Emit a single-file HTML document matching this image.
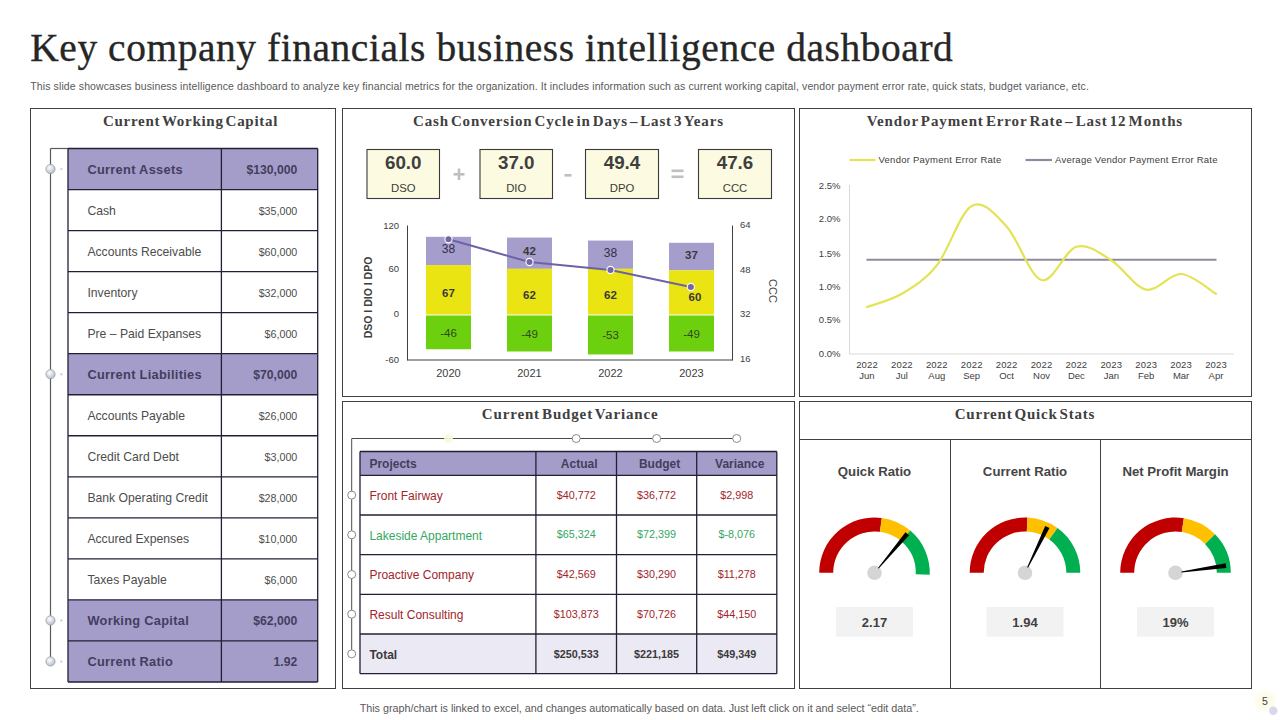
<!DOCTYPE html>
<html><head><meta charset="utf-8"><style>
html,body{margin:0;padding:0;background:#fff;width:1280px;height:720px;overflow:hidden}
svg{display:block;position:absolute;left:0;top:0}
</style></head><body>
<svg width="1280" height="720" viewBox="0 0 1280 720">
<defs><radialGradient id="glow"><stop offset="0" stop-color="#FDFBE6"/><stop offset="0.6" stop-color="#FDFCEC"/><stop offset="1" stop-color="#FFFFFF"/></radialGradient><radialGradient id="nodeg" cx="40%" cy="35%" r="65%"><stop offset="0" stop-color="#FFFFFF"/><stop offset="1" stop-color="#B7BCCB"/></radialGradient></defs>
<text x="30.3" y="60.8" font-family='"Liberation Serif", serif' font-size="39.4" fill="#262626" font-weight="normal" text-anchor="start" letter-spacing="0" textLength="922.5" lengthAdjust="spacing" stroke="#262626" stroke-width="0.35">Key company financials business intelligence dashboard</text>
<text x="30.3" y="89.7" font-family='"Liberation Sans", sans-serif' font-size="10.5" fill="#595959" font-weight="normal" text-anchor="start" letter-spacing="0" textLength="1058.5" lengthAdjust="spacing" >This slide showcases business intelligence dashboard to analyze key financial metrics for the organization. It includes information such as current working capital, vendor payment error rate, quick stats, budget variance, etc.</text>
<rect x="30.5" y="108.5" width="305" height="580" fill="none" stroke="#404040" stroke-width="1" />
<rect x="342.5" y="108.5" width="452" height="288" fill="none" stroke="#404040" stroke-width="1" />
<rect x="799.5" y="108.5" width="452" height="288" fill="none" stroke="#404040" stroke-width="1" />
<rect x="342.5" y="401.5" width="452" height="287" fill="none" stroke="#404040" stroke-width="1" />
<rect x="799.5" y="401.5" width="452" height="287" fill="none" stroke="#404040" stroke-width="1" />
<text x="102.9" y="125.8" font-family='"Liberation Serif", serif' font-size="15" fill="#404040" font-weight="bold" text-anchor="start" letter-spacing="0" textLength="174.49999999999997" lengthAdjust="spacing" word-spacing="-2.5" >Current Working Capital</text>
<text x="413" y="125.8" font-family='"Liberation Serif", serif' font-size="15" fill="#404040" font-weight="bold" text-anchor="start" letter-spacing="0" textLength="310" lengthAdjust="spacing" word-spacing="-2.5" >Cash Conversion Cycle in Days – Last 3 Years</text>
<text x="866.7" y="126" font-family='"Liberation Serif", serif' font-size="15" fill="#404040" font-weight="bold" text-anchor="start" letter-spacing="0" textLength="315.5" lengthAdjust="spacing" word-spacing="-2.5" >Vendor Payment Error Rate –  Last 12 Months</text>
<text x="481.8" y="418.9" font-family='"Liberation Serif", serif' font-size="15" fill="#404040" font-weight="bold" text-anchor="start" letter-spacing="0" textLength="175.90000000000003" lengthAdjust="spacing" word-spacing="-2.5" >Current Budget Variance</text>
<text x="954.7" y="419" font-family='"Liberation Serif", serif' font-size="15" fill="#404040" font-weight="bold" text-anchor="start" letter-spacing="0" textLength="139.70000000000005" lengthAdjust="spacing" word-spacing="-2.5" >Current Quick Stats</text>
<line x1="50.5" y1="148.5" x2="50.5" y2="661.4807692307693" stroke="#595959" stroke-width="1.2" />
<line x1="50.5" y1="148.5" x2="68" y2="148.5" stroke="#595959" stroke-width="1.2" />
<rect x="68" y="148.5" width="249.7" height="41.03846153846154" fill="#A59DC9" stroke="none" stroke-width="1" />
<rect x="68" y="353.69230769230774" width="249.7" height="41.03846153846154" fill="#A59DC9" stroke="none" stroke-width="1" />
<rect x="68" y="599.9230769230769" width="249.7" height="41.03846153846154" fill="#A59DC9" stroke="none" stroke-width="1" />
<rect x="68" y="640.9615384615385" width="249.7" height="41.03846153846154" fill="#A59DC9" stroke="none" stroke-width="1" />
<line x1="68" y1="148.5" x2="317.7" y2="148.5" stroke="#221F36" stroke-width="1.3" />
<line x1="68" y1="189.53846153846155" x2="317.7" y2="189.53846153846155" stroke="#221F36" stroke-width="1.3" />
<line x1="68" y1="230.5769230769231" x2="317.7" y2="230.5769230769231" stroke="#221F36" stroke-width="1.3" />
<line x1="68" y1="271.61538461538464" x2="317.7" y2="271.61538461538464" stroke="#221F36" stroke-width="1.3" />
<line x1="68" y1="312.6538461538462" x2="317.7" y2="312.6538461538462" stroke="#221F36" stroke-width="1.3" />
<line x1="68" y1="353.69230769230774" x2="317.7" y2="353.69230769230774" stroke="#221F36" stroke-width="1.3" />
<line x1="68" y1="394.7307692307692" x2="317.7" y2="394.7307692307692" stroke="#221F36" stroke-width="1.3" />
<line x1="68" y1="435.7692307692308" x2="317.7" y2="435.7692307692308" stroke="#221F36" stroke-width="1.3" />
<line x1="68" y1="476.8076923076923" x2="317.7" y2="476.8076923076923" stroke="#221F36" stroke-width="1.3" />
<line x1="68" y1="517.8461538461538" x2="317.7" y2="517.8461538461538" stroke="#221F36" stroke-width="1.3" />
<line x1="68" y1="558.8846153846155" x2="317.7" y2="558.8846153846155" stroke="#221F36" stroke-width="1.3" />
<line x1="68" y1="599.9230769230769" x2="317.7" y2="599.9230769230769" stroke="#221F36" stroke-width="1.3" />
<line x1="68" y1="640.9615384615385" x2="317.7" y2="640.9615384615385" stroke="#221F36" stroke-width="1.3" />
<line x1="68" y1="682.0" x2="317.7" y2="682.0" stroke="#221F36" stroke-width="1.3" />
<line x1="68" y1="148.5" x2="68" y2="682.0" stroke="#221F36" stroke-width="1.3" />
<line x1="317.7" y1="148.5" x2="317.7" y2="682.0" stroke="#221F36" stroke-width="1.3" />
<line x1="221.4" y1="148.5" x2="221.4" y2="682.0" stroke="#221F36" stroke-width="1.3" />
<text x="87.4" y="173.9" font-family='"Liberation Sans", sans-serif' font-size="12.8" fill="#423E5E" font-weight="bold" text-anchor="start" letter-spacing="0.3" >Current Assets</text>
<text x="297.3" y="173.7" font-family='"Liberation Sans", sans-serif' font-size="12.2" fill="#423E5E" font-weight="bold" text-anchor="end" letter-spacing="0" >$130,000</text>
<text x="87.4" y="215.13846153846154" font-family='"Liberation Sans", sans-serif' font-size="12.2" fill="#4D4D4D" font-weight="normal" text-anchor="start" letter-spacing="0" >Cash</text>
<text x="297.3" y="215.03846153846155" font-family='"Liberation Sans", sans-serif' font-size="10.7" fill="#4D4D4D" font-weight="normal" text-anchor="end" letter-spacing="0" >$35,000</text>
<text x="87.4" y="256.1769230769231" font-family='"Liberation Sans", sans-serif' font-size="12.2" fill="#4D4D4D" font-weight="normal" text-anchor="start" letter-spacing="0" >Accounts Receivable</text>
<text x="297.3" y="256.0769230769231" font-family='"Liberation Sans", sans-serif' font-size="10.7" fill="#4D4D4D" font-weight="normal" text-anchor="end" letter-spacing="0" >$60,000</text>
<text x="87.4" y="297.21538461538466" font-family='"Liberation Sans", sans-serif' font-size="12.2" fill="#4D4D4D" font-weight="normal" text-anchor="start" letter-spacing="0" >Inventory</text>
<text x="297.3" y="297.11538461538464" font-family='"Liberation Sans", sans-serif' font-size="10.7" fill="#4D4D4D" font-weight="normal" text-anchor="end" letter-spacing="0" >$32,000</text>
<text x="87.4" y="338.2538461538462" font-family='"Liberation Sans", sans-serif' font-size="12.2" fill="#4D4D4D" font-weight="normal" text-anchor="start" letter-spacing="0" >Pre – Paid Expanses</text>
<text x="297.3" y="338.1538461538462" font-family='"Liberation Sans", sans-serif' font-size="10.7" fill="#4D4D4D" font-weight="normal" text-anchor="end" letter-spacing="0" >$6,000</text>
<text x="87.4" y="379.0923076923077" font-family='"Liberation Sans", sans-serif' font-size="12.8" fill="#423E5E" font-weight="bold" text-anchor="start" letter-spacing="0.3" >Current Liabilities</text>
<text x="297.3" y="378.8923076923077" font-family='"Liberation Sans", sans-serif' font-size="12.2" fill="#423E5E" font-weight="bold" text-anchor="end" letter-spacing="0" >$70,000</text>
<text x="87.4" y="420.33076923076925" font-family='"Liberation Sans", sans-serif' font-size="12.2" fill="#4D4D4D" font-weight="normal" text-anchor="start" letter-spacing="0" >Accounts Payable</text>
<text x="297.3" y="420.2307692307692" font-family='"Liberation Sans", sans-serif' font-size="10.7" fill="#4D4D4D" font-weight="normal" text-anchor="end" letter-spacing="0" >$26,000</text>
<text x="87.4" y="461.3692307692308" font-family='"Liberation Sans", sans-serif' font-size="12.2" fill="#4D4D4D" font-weight="normal" text-anchor="start" letter-spacing="0" >Credit Card Debt</text>
<text x="297.3" y="461.2692307692308" font-family='"Liberation Sans", sans-serif' font-size="10.7" fill="#4D4D4D" font-weight="normal" text-anchor="end" letter-spacing="0" >$3,000</text>
<text x="87.4" y="502.40769230769234" font-family='"Liberation Sans", sans-serif' font-size="12.2" fill="#4D4D4D" font-weight="normal" text-anchor="start" letter-spacing="0" >Bank Operating Credit</text>
<text x="297.3" y="502.3076923076923" font-family='"Liberation Sans", sans-serif' font-size="10.7" fill="#4D4D4D" font-weight="normal" text-anchor="end" letter-spacing="0" >$28,000</text>
<text x="87.4" y="543.4461538461538" font-family='"Liberation Sans", sans-serif' font-size="12.2" fill="#4D4D4D" font-weight="normal" text-anchor="start" letter-spacing="0" >Accured Expenses</text>
<text x="297.3" y="543.3461538461538" font-family='"Liberation Sans", sans-serif' font-size="10.7" fill="#4D4D4D" font-weight="normal" text-anchor="end" letter-spacing="0" >$10,000</text>
<text x="87.4" y="584.4846153846155" font-family='"Liberation Sans", sans-serif' font-size="12.2" fill="#4D4D4D" font-weight="normal" text-anchor="start" letter-spacing="0" >Taxes Payable</text>
<text x="297.3" y="584.3846153846155" font-family='"Liberation Sans", sans-serif' font-size="10.7" fill="#4D4D4D" font-weight="normal" text-anchor="end" letter-spacing="0" >$6,000</text>
<text x="87.4" y="625.3230769230769" font-family='"Liberation Sans", sans-serif' font-size="12.8" fill="#423E5E" font-weight="bold" text-anchor="start" letter-spacing="0.3" >Working Capital</text>
<text x="297.3" y="625.123076923077" font-family='"Liberation Sans", sans-serif' font-size="12.2" fill="#423E5E" font-weight="bold" text-anchor="end" letter-spacing="0" >$62,000</text>
<text x="87.4" y="666.3615384615384" font-family='"Liberation Sans", sans-serif' font-size="12.8" fill="#423E5E" font-weight="bold" text-anchor="start" letter-spacing="0.3" >Current Ratio</text>
<text x="297.3" y="666.1615384615385" font-family='"Liberation Sans", sans-serif' font-size="12.2" fill="#423E5E" font-weight="bold" text-anchor="end" letter-spacing="0" >1.92</text>
<circle cx="50.5" cy="169.01923076923077" r="4.6" fill="url(#nodeg)" stroke="#9AA0B0" stroke-width="0.8"/>
<path d="M60.5 167.51923076923077 L63 169.01923076923077 L60.5 170.51923076923077Z" fill="#C8C8D0"/>
<circle cx="50.5" cy="374.2115384615385" r="4.6" fill="url(#nodeg)" stroke="#9AA0B0" stroke-width="0.8"/>
<path d="M60.5 372.7115384615385 L63 374.2115384615385 L60.5 375.7115384615385Z" fill="#C8C8D0"/>
<circle cx="50.5" cy="620.4423076923076" r="4.6" fill="url(#nodeg)" stroke="#9AA0B0" stroke-width="0.8"/>
<path d="M60.5 618.9423076923076 L63 620.4423076923076 L60.5 621.9423076923076Z" fill="#C8C8D0"/>
<circle cx="50.5" cy="661.4807692307692" r="4.6" fill="url(#nodeg)" stroke="#9AA0B0" stroke-width="0.8"/>
<path d="M60.5 659.9807692307692 L63 661.4807692307692 L60.5 662.9807692307692Z" fill="#C8C8D0"/>
<rect x="367" y="149.5" width="72.5" height="49" fill="#FCFAE0" stroke="#3A3A3A" stroke-width="1.1" />
<text x="403.25" y="169" font-family='"Liberation Sans", sans-serif' font-size="18.8" fill="#3F3F3F" font-weight="bold" text-anchor="middle" letter-spacing="0" >60.0</text>
<text x="403.25" y="191.6" font-family='"Liberation Sans", sans-serif' font-size="11.3" fill="#3A3A3A" font-weight="normal" text-anchor="middle" letter-spacing="0" >DSO</text>
<rect x="480" y="149.5" width="72.5" height="49" fill="#FCFAE0" stroke="#3A3A3A" stroke-width="1.1" />
<text x="516.25" y="169" font-family='"Liberation Sans", sans-serif' font-size="18.8" fill="#3F3F3F" font-weight="bold" text-anchor="middle" letter-spacing="0" >37.0</text>
<text x="516.25" y="191.6" font-family='"Liberation Sans", sans-serif' font-size="11.3" fill="#3A3A3A" font-weight="normal" text-anchor="middle" letter-spacing="0" >DIO</text>
<rect x="585.5" y="149.5" width="73.0" height="49" fill="#FCFAE0" stroke="#3A3A3A" stroke-width="1.1" />
<text x="622.0" y="169" font-family='"Liberation Sans", sans-serif' font-size="18.8" fill="#3F3F3F" font-weight="bold" text-anchor="middle" letter-spacing="0" >49.4</text>
<text x="622.0" y="191.6" font-family='"Liberation Sans", sans-serif' font-size="11.3" fill="#3A3A3A" font-weight="normal" text-anchor="middle" letter-spacing="0" >DPO</text>
<rect x="698.5" y="149.5" width="73.0" height="49" fill="#FCFAE0" stroke="#3A3A3A" stroke-width="1.1" />
<text x="735.0" y="169" font-family='"Liberation Sans", sans-serif' font-size="18.8" fill="#3F3F3F" font-weight="bold" text-anchor="middle" letter-spacing="0" >47.6</text>
<text x="735.0" y="191.6" font-family='"Liberation Sans", sans-serif' font-size="11.3" fill="#3A3A3A" font-weight="normal" text-anchor="middle" letter-spacing="0" >CCC</text>
<rect x="453.5" y="173" width="11" height="2.6" fill="#BFBFBF" stroke="none" stroke-width="1" />
<rect x="457.7" y="168.5" width="2.6" height="11.5" fill="#BFBFBF" stroke="none" stroke-width="1" />
<rect x="564.5" y="174" width="7" height="2.6" fill="#BFBFBF" stroke="none" stroke-width="1" />
<rect x="671.5" y="169.5" width="12" height="2.6" fill="#BFBFBF" stroke="none" stroke-width="1" />
<rect x="671.5" y="175.5" width="12" height="2.6" fill="#BFBFBF" stroke="none" stroke-width="1" />
<line x1="407.5" y1="225.5" x2="407.5" y2="360.5" stroke="#404040" stroke-width="1" />
<line x1="407.5" y1="360" x2="732.5" y2="360" stroke="#404040" stroke-width="1" />
<line x1="732.5" y1="225.5" x2="732.5" y2="360.5" stroke="#404040" stroke-width="1" />
<text x="399" y="228.6" font-family='"Liberation Sans", sans-serif' font-size="9.5" fill="#404040" font-weight="normal" text-anchor="end" letter-spacing="0" >120</text>
<text x="399" y="272.1" font-family='"Liberation Sans", sans-serif' font-size="9.5" fill="#404040" font-weight="normal" text-anchor="end" letter-spacing="0" >60</text>
<text x="399" y="317.40000000000003" font-family='"Liberation Sans", sans-serif' font-size="9.5" fill="#404040" font-weight="normal" text-anchor="end" letter-spacing="0" >0</text>
<text x="399" y="362.6" font-family='"Liberation Sans", sans-serif' font-size="9.5" fill="#404040" font-weight="normal" text-anchor="end" letter-spacing="0" >-60</text>
<text x="740" y="228.1" font-family='"Liberation Sans", sans-serif' font-size="9.5" fill="#404040" font-weight="normal" text-anchor="start" letter-spacing="0" >64</text>
<text x="740" y="272.6" font-family='"Liberation Sans", sans-serif' font-size="9.5" fill="#404040" font-weight="normal" text-anchor="start" letter-spacing="0" >48</text>
<text x="740" y="317.1" font-family='"Liberation Sans", sans-serif' font-size="9.5" fill="#404040" font-weight="normal" text-anchor="start" letter-spacing="0" >32</text>
<text x="740" y="362.1" font-family='"Liberation Sans", sans-serif' font-size="9.5" fill="#404040" font-weight="normal" text-anchor="start" letter-spacing="0" >16</text>
<rect x="426.0" y="236.83333333333331" width="45" height="28.28888888888889" fill="#A59DCB" stroke="none" stroke-width="1" />
<rect x="426.0" y="265.1222222222222" width="45" height="49.87777777777778" fill="#EAE412" stroke="none" stroke-width="1" />
<rect x="426.0" y="315.0" width="45" height="34.24444444444445" fill="#6DD00F" stroke="none" stroke-width="1" />
<line x1="426.0" y1="315.0" x2="471.0" y2="315.0" stroke="#fff" stroke-width="1.2" />
<text x="448.5" y="376.8" font-family='"Liberation Sans", sans-serif' font-size="11" fill="#404040" font-weight="normal" text-anchor="middle" letter-spacing="0" >2020</text>
<rect x="507.0" y="237.57777777777778" width="45" height="31.266666666666666" fill="#A59DCB" stroke="none" stroke-width="1" />
<rect x="507.0" y="268.84444444444443" width="45" height="46.15555555555556" fill="#EAE412" stroke="none" stroke-width="1" />
<rect x="507.0" y="315.0" width="45" height="36.47777777777778" fill="#6DD00F" stroke="none" stroke-width="1" />
<line x1="507.0" y1="315.0" x2="552.0" y2="315.0" stroke="#fff" stroke-width="1.2" />
<text x="529.5" y="376.8" font-family='"Liberation Sans", sans-serif' font-size="11" fill="#404040" font-weight="normal" text-anchor="middle" letter-spacing="0" >2021</text>
<rect x="588.0" y="240.55555555555554" width="45" height="28.28888888888889" fill="#A59DCB" stroke="none" stroke-width="1" />
<rect x="588.0" y="268.84444444444443" width="45" height="46.15555555555556" fill="#EAE412" stroke="none" stroke-width="1" />
<rect x="588.0" y="315.0" width="45" height="39.455555555555556" fill="#6DD00F" stroke="none" stroke-width="1" />
<line x1="588.0" y1="315.0" x2="633.0" y2="315.0" stroke="#fff" stroke-width="1.2" />
<text x="610.5" y="376.8" font-family='"Liberation Sans", sans-serif' font-size="11" fill="#404040" font-weight="normal" text-anchor="middle" letter-spacing="0" >2022</text>
<rect x="669.0" y="242.7888888888889" width="45" height="27.544444444444444" fill="#A59DCB" stroke="none" stroke-width="1" />
<rect x="669.0" y="270.3333333333333" width="45" height="44.66666666666667" fill="#EAE412" stroke="none" stroke-width="1" />
<rect x="669.0" y="315.0" width="45" height="36.47777777777778" fill="#6DD00F" stroke="none" stroke-width="1" />
<line x1="669.0" y1="315.0" x2="714.0" y2="315.0" stroke="#fff" stroke-width="1.2" />
<text x="691.5" y="376.8" font-family='"Liberation Sans", sans-serif' font-size="11" fill="#404040" font-weight="normal" text-anchor="middle" letter-spacing="0" >2023</text>
<text x="448.5" y="253" font-family='"Liberation Sans", sans-serif' font-size="12" fill="#33304A" font-weight="normal" text-anchor="middle" letter-spacing="0" >38</text>
<text x="448.5" y="297" font-family='"Liberation Sans", sans-serif' font-size="11.5" fill="#3A3A3A" font-weight="bold" text-anchor="middle" letter-spacing="0" >67</text>
<text x="448.5" y="337" font-family='"Liberation Sans", sans-serif' font-size="11.5" fill="#2F4A1A" font-weight="normal" text-anchor="middle" letter-spacing="0" >-46</text>
<text x="529.5" y="255" font-family='"Liberation Sans", sans-serif' font-size="11.5" fill="#3A3A3A" font-weight="bold" text-anchor="middle" letter-spacing="0" >42</text>
<text x="529.5" y="299" font-family='"Liberation Sans", sans-serif' font-size="11.5" fill="#3A3A3A" font-weight="bold" text-anchor="middle" letter-spacing="0" >62</text>
<text x="529.5" y="338" font-family='"Liberation Sans", sans-serif' font-size="11.5" fill="#2F4A1A" font-weight="normal" text-anchor="middle" letter-spacing="0" >-49</text>
<text x="610.5" y="257" font-family='"Liberation Sans", sans-serif' font-size="12" fill="#33304A" font-weight="normal" text-anchor="middle" letter-spacing="0" >38</text>
<text x="610.5" y="299" font-family='"Liberation Sans", sans-serif' font-size="11.5" fill="#3A3A3A" font-weight="bold" text-anchor="middle" letter-spacing="0" >62</text>
<text x="610.5" y="339" font-family='"Liberation Sans", sans-serif' font-size="11.5" fill="#2F4A1A" font-weight="normal" text-anchor="middle" letter-spacing="0" >-53</text>
<text x="691.5" y="259" font-family='"Liberation Sans", sans-serif' font-size="11.5" fill="#3A3A3A" font-weight="bold" text-anchor="middle" letter-spacing="0" >37</text>
<text x="695" y="301" font-family='"Liberation Sans", sans-serif' font-size="11.5" fill="#3A3A3A" font-weight="bold" text-anchor="middle" letter-spacing="0" >60</text>
<text x="691.5" y="338" font-family='"Liberation Sans", sans-serif' font-size="11.5" fill="#2F4A1A" font-weight="normal" text-anchor="middle" letter-spacing="0" >-49</text>
<path d="M448.5 239.3 L529.5 262 L610.5 270 L690.8 287" fill="none" stroke="#6D62A8" stroke-width="2"/>
<circle cx="448.5" cy="239.3" r="3.6" fill="#6F66A3" stroke="#fff" stroke-width="1.1"/>
<circle cx="529.5" cy="262" r="3.6" fill="#6F66A3" stroke="#fff" stroke-width="1.1"/>
<circle cx="610.5" cy="270" r="3.6" fill="#6F66A3" stroke="#fff" stroke-width="1.1"/>
<circle cx="690.8" cy="287" r="3.6" fill="#6F66A3" stroke="#fff" stroke-width="1.1"/>
<text x="0" y="0" font-family='"Liberation Sans", sans-serif' font-size="10.5" fill="#404040" font-weight="bold" text-anchor="middle" letter-spacing="0" transform="translate(371.5,297.5) rotate(-90)">DSO I DIO I DPO</text>
<text x="0" y="0" font-family='"Liberation Sans", sans-serif' font-size="11" fill="#404040" font-weight="normal" text-anchor="middle" letter-spacing="0" transform="translate(768.5,291) rotate(90)">CCC</text>
<line x1="849.5" y1="185" x2="849.5" y2="354" stroke="#D9D9D9" stroke-width="1"/>
<line x1="849.5" y1="354" x2="1234" y2="354" stroke="#D9D9D9" stroke-width="1"/>
<text x="840.5" y="356.90000000000003" font-family='"Liberation Sans", sans-serif' font-size="9.5" fill="#404040" font-weight="normal" text-anchor="end" letter-spacing="0" >0.0%</text>
<text x="840.5" y="323.1" font-family='"Liberation Sans", sans-serif' font-size="9.5" fill="#404040" font-weight="normal" text-anchor="end" letter-spacing="0" >0.5%</text>
<text x="840.5" y="290.3" font-family='"Liberation Sans", sans-serif' font-size="9.5" fill="#404040" font-weight="normal" text-anchor="end" letter-spacing="0" >1.0%</text>
<text x="840.5" y="256.5" font-family='"Liberation Sans", sans-serif' font-size="9.5" fill="#404040" font-weight="normal" text-anchor="end" letter-spacing="0" >1.5%</text>
<text x="840.5" y="222.20000000000002" font-family='"Liberation Sans", sans-serif' font-size="9.5" fill="#404040" font-weight="normal" text-anchor="end" letter-spacing="0" >2.0%</text>
<text x="840.5" y="189.10000000000002" font-family='"Liberation Sans", sans-serif' font-size="9.5" fill="#404040" font-weight="normal" text-anchor="end" letter-spacing="0" >2.5%</text>
<text x="867.0" y="368" font-family='"Liberation Sans", sans-serif' font-size="9.5" fill="#404040" font-weight="normal" text-anchor="middle" letter-spacing="0.15" >2022</text>
<text x="867.0" y="379" font-family='"Liberation Sans", sans-serif' font-size="9.5" fill="#404040" font-weight="normal" text-anchor="middle" letter-spacing="0" >Jun</text>
<text x="901.9" y="368" font-family='"Liberation Sans", sans-serif' font-size="9.5" fill="#404040" font-weight="normal" text-anchor="middle" letter-spacing="0.15" >2022</text>
<text x="901.9" y="379" font-family='"Liberation Sans", sans-serif' font-size="9.5" fill="#404040" font-weight="normal" text-anchor="middle" letter-spacing="0" >Jul</text>
<text x="936.8" y="368" font-family='"Liberation Sans", sans-serif' font-size="9.5" fill="#404040" font-weight="normal" text-anchor="middle" letter-spacing="0.15" >2022</text>
<text x="936.8" y="379" font-family='"Liberation Sans", sans-serif' font-size="9.5" fill="#404040" font-weight="normal" text-anchor="middle" letter-spacing="0" >Aug</text>
<text x="971.7" y="368" font-family='"Liberation Sans", sans-serif' font-size="9.5" fill="#404040" font-weight="normal" text-anchor="middle" letter-spacing="0.15" >2022</text>
<text x="971.7" y="379" font-family='"Liberation Sans", sans-serif' font-size="9.5" fill="#404040" font-weight="normal" text-anchor="middle" letter-spacing="0" >Sep</text>
<text x="1006.6" y="368" font-family='"Liberation Sans", sans-serif' font-size="9.5" fill="#404040" font-weight="normal" text-anchor="middle" letter-spacing="0.15" >2022</text>
<text x="1006.6" y="379" font-family='"Liberation Sans", sans-serif' font-size="9.5" fill="#404040" font-weight="normal" text-anchor="middle" letter-spacing="0" >Oct</text>
<text x="1041.5" y="368" font-family='"Liberation Sans", sans-serif' font-size="9.5" fill="#404040" font-weight="normal" text-anchor="middle" letter-spacing="0.15" >2022</text>
<text x="1041.5" y="379" font-family='"Liberation Sans", sans-serif' font-size="9.5" fill="#404040" font-weight="normal" text-anchor="middle" letter-spacing="0" >Nov</text>
<text x="1076.4" y="368" font-family='"Liberation Sans", sans-serif' font-size="9.5" fill="#404040" font-weight="normal" text-anchor="middle" letter-spacing="0.15" >2022</text>
<text x="1076.4" y="379" font-family='"Liberation Sans", sans-serif' font-size="9.5" fill="#404040" font-weight="normal" text-anchor="middle" letter-spacing="0" >Dec</text>
<text x="1111.3" y="368" font-family='"Liberation Sans", sans-serif' font-size="9.5" fill="#404040" font-weight="normal" text-anchor="middle" letter-spacing="0.15" >2023</text>
<text x="1111.3" y="379" font-family='"Liberation Sans", sans-serif' font-size="9.5" fill="#404040" font-weight="normal" text-anchor="middle" letter-spacing="0" >Jan</text>
<text x="1146.2" y="368" font-family='"Liberation Sans", sans-serif' font-size="9.5" fill="#404040" font-weight="normal" text-anchor="middle" letter-spacing="0.15" >2023</text>
<text x="1146.2" y="379" font-family='"Liberation Sans", sans-serif' font-size="9.5" fill="#404040" font-weight="normal" text-anchor="middle" letter-spacing="0" >Feb</text>
<text x="1181.1" y="368" font-family='"Liberation Sans", sans-serif' font-size="9.5" fill="#404040" font-weight="normal" text-anchor="middle" letter-spacing="0.15" >2023</text>
<text x="1181.1" y="379" font-family='"Liberation Sans", sans-serif' font-size="9.5" fill="#404040" font-weight="normal" text-anchor="middle" letter-spacing="0" >Mar</text>
<text x="1216.0" y="368" font-family='"Liberation Sans", sans-serif' font-size="9.5" fill="#404040" font-weight="normal" text-anchor="middle" letter-spacing="0.15" >2023</text>
<text x="1216.0" y="379" font-family='"Liberation Sans", sans-serif' font-size="9.5" fill="#404040" font-weight="normal" text-anchor="middle" letter-spacing="0" >Apr</text>
<line x1="866.5" y1="259.8" x2="1216.5" y2="259.8" stroke="#8E8A9F" stroke-width="2"/>
<path d="M867.00 307.00 C872.82 304.79 890.27 300.67 901.90 293.75 C913.53 286.83 925.17 280.12 936.80 265.50 C948.43 250.88 960.07 212.50 971.70 206.00 C983.33 199.50 994.97 214.17 1006.60 226.50 C1018.23 238.83 1029.87 276.62 1041.50 280.00 C1053.13 283.38 1064.77 250.08 1076.40 246.80 C1088.03 243.52 1099.67 253.17 1111.30 260.30 C1122.93 267.43 1134.57 287.32 1146.20 289.60 C1157.83 291.88 1169.47 273.31 1181.10 274.00 C1192.73 274.69 1210.18 290.46 1216.00 293.75" fill="none" stroke="#E3E356" stroke-width="2.2" stroke-linecap="round"/>
<line x1="849.5" y1="160" x2="875.5" y2="160" stroke="#E3E356" stroke-width="2.2"/>
<text x="878.5" y="163.3" font-family='"Liberation Sans", sans-serif' font-size="9.5" fill="#404040" font-weight="normal" text-anchor="start" letter-spacing="0.25" >Vendor Payment Error Rate</text>
<line x1="1025.5" y1="160" x2="1052" y2="160" stroke="#8E8A9F" stroke-width="2.2"/>
<text x="1055" y="163.3" font-family='"Liberation Sans", sans-serif' font-size="9.5" fill="#404040" font-weight="normal" text-anchor="start" letter-spacing="0.25" >Average Vendor Payment Error Rate</text>
<line x1="351.7" y1="438.5" x2="351.7" y2="653.86" stroke="#4A4A4A" stroke-width="1" />
<line x1="351.7" y1="438.5" x2="737" y2="438.5" stroke="#4A4A4A" stroke-width="1" />
<circle cx="448.5" cy="438.5" r="4.5" fill="#F8F8DA" opacity="0.9"/>
<circle cx="576.2" cy="438.5" r="4" fill="#fff" stroke="#8A8A8A" stroke-width="1"/>
<circle cx="656.6" cy="438.5" r="4" fill="#fff" stroke="#8A8A8A" stroke-width="1"/>
<circle cx="736.7" cy="438.5" r="4" fill="#fff" stroke="#8A8A8A" stroke-width="1"/>
<rect x="360" y="451.5" width="416.79999999999995" height="23.8" fill="#A59DC9" stroke="none" stroke-width="1" />
<rect x="360" y="634.02" width="416.79999999999995" height="39.68000000000001" fill="#EBE9F3" stroke="none" stroke-width="1" />
<line x1="360" y1="475.3" x2="776.8" y2="475.3" stroke="#221F36" stroke-width="1.3" />
<line x1="360" y1="514.98" x2="776.8" y2="514.98" stroke="#221F36" stroke-width="1.3" />
<line x1="360" y1="554.6600000000001" x2="776.8" y2="554.6600000000001" stroke="#221F36" stroke-width="1.3" />
<line x1="360" y1="594.34" x2="776.8" y2="594.34" stroke="#221F36" stroke-width="1.3" />
<line x1="360" y1="634.02" x2="776.8" y2="634.02" stroke="#221F36" stroke-width="1.3" />
<line x1="360" y1="673.7" x2="776.8" y2="673.7" stroke="#221F36" stroke-width="1.3" />
<line x1="360" y1="451.5" x2="776.8" y2="451.5" stroke="#221F36" stroke-width="1.3" />
<line x1="360" y1="451.5" x2="360" y2="673.7" stroke="#221F36" stroke-width="1.3" />
<line x1="535.9" y1="451.5" x2="535.9" y2="673.7" stroke="#221F36" stroke-width="1.3" />
<line x1="616.5" y1="451.5" x2="616.5" y2="673.7" stroke="#221F36" stroke-width="1.3" />
<line x1="696.7" y1="451.5" x2="696.7" y2="673.7" stroke="#221F36" stroke-width="1.3" />
<line x1="776.8" y1="451.5" x2="776.8" y2="673.7" stroke="#221F36" stroke-width="1.3" />
<text x="369.4" y="467.8" font-family='"Liberation Sans", sans-serif' font-size="12" fill="#423E5E" font-weight="bold" text-anchor="start" letter-spacing="0" >Projects</text>
<text x="579.2" y="467.8" font-family='"Liberation Sans", sans-serif' font-size="12" fill="#423E5E" font-weight="bold" text-anchor="middle" letter-spacing="0" >Actual</text>
<text x="659.6" y="467.8" font-family='"Liberation Sans", sans-serif' font-size="12" fill="#423E5E" font-weight="bold" text-anchor="middle" letter-spacing="0" >Budget</text>
<text x="739.75" y="467.8" font-family='"Liberation Sans", sans-serif' font-size="12" fill="#423E5E" font-weight="bold" text-anchor="middle" letter-spacing="0" >Variance</text>
<text x="369.4" y="500.1" font-family='"Liberation Sans", sans-serif' font-size="12" fill="#A1252A" font-weight="normal" text-anchor="start" letter-spacing="0" >Front Fairway</text>
<text x="576.2" y="498.8" font-family='"Liberation Sans", sans-serif' font-size="10.8" fill="#A1252A" font-weight="normal" text-anchor="middle" letter-spacing="0" >$40,772</text>
<text x="656.6" y="498.8" font-family='"Liberation Sans", sans-serif' font-size="10.8" fill="#A1252A" font-weight="normal" text-anchor="middle" letter-spacing="0" >$36,772</text>
<text x="736.75" y="498.8" font-family='"Liberation Sans", sans-serif' font-size="10.8" fill="#A1252A" font-weight="normal" text-anchor="middle" letter-spacing="0" >$2,998</text>
<circle cx="351.7" cy="495.14" r="4" fill="#fff" stroke="#8A8A8A" stroke-width="1"/>
<text x="369.4" y="539.78" font-family='"Liberation Sans", sans-serif' font-size="12" fill="#35A862" font-weight="normal" text-anchor="start" letter-spacing="0" >Lakeside Appartment</text>
<text x="576.2" y="538.48" font-family='"Liberation Sans", sans-serif' font-size="10.8" fill="#35A862" font-weight="normal" text-anchor="middle" letter-spacing="0" >$65,324</text>
<text x="656.6" y="538.48" font-family='"Liberation Sans", sans-serif' font-size="10.8" fill="#35A862" font-weight="normal" text-anchor="middle" letter-spacing="0" >$72,399</text>
<text x="736.75" y="538.48" font-family='"Liberation Sans", sans-serif' font-size="10.8" fill="#35A862" font-weight="normal" text-anchor="middle" letter-spacing="0" >$-8,076</text>
<circle cx="351.7" cy="534.82" r="4" fill="#fff" stroke="#8A8A8A" stroke-width="1"/>
<text x="369.4" y="579.46" font-family='"Liberation Sans", sans-serif' font-size="12" fill="#A1252A" font-weight="normal" text-anchor="start" letter-spacing="0" >Proactive Company</text>
<text x="576.2" y="578.1600000000001" font-family='"Liberation Sans", sans-serif' font-size="10.8" fill="#A1252A" font-weight="normal" text-anchor="middle" letter-spacing="0" >$42,569</text>
<text x="656.6" y="578.1600000000001" font-family='"Liberation Sans", sans-serif' font-size="10.8" fill="#A1252A" font-weight="normal" text-anchor="middle" letter-spacing="0" >$30,290</text>
<text x="736.75" y="578.1600000000001" font-family='"Liberation Sans", sans-serif' font-size="10.8" fill="#A1252A" font-weight="normal" text-anchor="middle" letter-spacing="0" >$11,278</text>
<circle cx="351.7" cy="574.5000000000001" r="4" fill="#fff" stroke="#8A8A8A" stroke-width="1"/>
<text x="369.4" y="619.14" font-family='"Liberation Sans", sans-serif' font-size="12" fill="#A1252A" font-weight="normal" text-anchor="start" letter-spacing="0" >Result Consulting</text>
<text x="576.2" y="617.84" font-family='"Liberation Sans", sans-serif' font-size="10.8" fill="#A1252A" font-weight="normal" text-anchor="middle" letter-spacing="0" >$103,873</text>
<text x="656.6" y="617.84" font-family='"Liberation Sans", sans-serif' font-size="10.8" fill="#A1252A" font-weight="normal" text-anchor="middle" letter-spacing="0" >$70,726</text>
<text x="736.75" y="617.84" font-family='"Liberation Sans", sans-serif' font-size="10.8" fill="#A1252A" font-weight="normal" text-anchor="middle" letter-spacing="0" >$44,150</text>
<circle cx="351.7" cy="614.1800000000001" r="4" fill="#fff" stroke="#8A8A8A" stroke-width="1"/>
<text x="369.4" y="658.8199999999999" font-family='"Liberation Sans", sans-serif' font-size="12" fill="#3A3A3A" font-weight="bold" text-anchor="start" letter-spacing="0" >Total</text>
<text x="576.2" y="657.52" font-family='"Liberation Sans", sans-serif' font-size="10.8" fill="#3A3A3A" font-weight="bold" text-anchor="middle" letter-spacing="0" >$250,533</text>
<text x="656.6" y="657.52" font-family='"Liberation Sans", sans-serif' font-size="10.8" fill="#3A3A3A" font-weight="bold" text-anchor="middle" letter-spacing="0" >$221,185</text>
<text x="736.75" y="657.52" font-family='"Liberation Sans", sans-serif' font-size="10.8" fill="#3A3A3A" font-weight="bold" text-anchor="middle" letter-spacing="0" >$49,349</text>
<circle cx="351.7" cy="653.86" r="4" fill="#fff" stroke="#8A8A8A" stroke-width="1"/>
<line x1="799" y1="439.5" x2="1251" y2="439.5" stroke="#404040" stroke-width="1" />
<line x1="950.5" y1="439.5" x2="950.5" y2="688" stroke="#404040" stroke-width="1" />
<line x1="1100.5" y1="439.5" x2="1100.5" y2="688" stroke="#404040" stroke-width="1" />
<path d="M819.20 572.80 A55.3 55.3 0 0 1 881.81 517.99 L879.96 531.86 A41.3 41.3 0 0 0 833.20 572.80Z" fill="#C00000"/>
<path d="M881.81 517.99 A55.3 55.3 0 0 1 910.27 530.62 L901.21 541.30 A41.3 41.3 0 0 0 879.96 531.86Z" fill="#FFC000"/>
<path d="M910.27 530.62 A55.3 55.3 0 0 1 929.77 574.73 L915.77 574.24 A41.3 41.3 0 0 0 901.21 541.30Z" fill="#00B050"/>
<circle cx="874.5" cy="572.8" r="7.3" fill="#D5D5D5"/>
<path d="M877.97 567.88 L905.44 532.19 L909.12 535.27 L878.74 568.53Z" fill="#000"/>
<text x="874.5" y="475.6" font-family='"Liberation Sans", sans-serif' font-size="13.2" fill="#454545" font-weight="bold" text-anchor="middle" letter-spacing="0" >Quick Ratio</text>
<rect x="836.0" y="607" width="77" height="29.7" fill="#F2F2F2" stroke="none" stroke-width="1" />
<text x="874.5" y="627" font-family='"Liberation Sans", sans-serif' font-size="13" fill="#404040" font-weight="bold" text-anchor="middle" letter-spacing="0" >2.17</text>
<path d="M969.70 572.80 A55.3 55.3 0 0 1 1027.41 517.55 L1026.80 531.54 A41.3 41.3 0 0 0 983.70 572.80Z" fill="#C00000"/>
<path d="M1027.41 517.55 A55.3 55.3 0 0 1 1057.50 528.06 L1049.28 539.39 A41.3 41.3 0 0 0 1026.80 531.54Z" fill="#FFC000"/>
<path d="M1057.50 528.06 A55.3 55.3 0 0 1 1080.30 572.80 L1066.30 572.80 A41.3 41.3 0 0 0 1049.28 539.39Z" fill="#00B050"/>
<circle cx="1025" cy="572.8" r="7.3" fill="#D5D5D5"/>
<path d="M1027.18 567.19 L1045.20 525.91 L1049.51 528.01 L1028.08 567.63Z" fill="#000"/>
<text x="1025" y="475.6" font-family='"Liberation Sans", sans-serif' font-size="13.2" fill="#454545" font-weight="bold" text-anchor="middle" letter-spacing="0" >Current Ratio</text>
<rect x="986.5" y="607" width="77" height="29.7" fill="#F2F2F2" stroke="none" stroke-width="1" />
<text x="1025" y="627" font-family='"Liberation Sans", sans-serif' font-size="13" fill="#404040" font-weight="bold" text-anchor="middle" letter-spacing="0" >1.94</text>
<path d="M1120.20 572.80 A55.3 55.3 0 0 1 1183.86 518.14 L1181.75 531.98 A41.3 41.3 0 0 0 1134.20 572.80Z" fill="#C00000"/>
<path d="M1183.86 518.14 A55.3 55.3 0 0 1 1215.08 534.18 L1205.06 543.96 A41.3 41.3 0 0 0 1181.75 531.98Z" fill="#FFC000"/>
<path d="M1215.08 534.18 A55.3 55.3 0 0 1 1230.80 572.80 L1216.80 572.80 A41.3 41.3 0 0 0 1205.06 543.96Z" fill="#00B050"/>
<circle cx="1175.5" cy="572.8" r="7.3" fill="#D5D5D5"/>
<path d="M1181.37 571.46 L1225.65 563.24 L1226.33 567.99 L1181.51 572.45Z" fill="#000"/>
<text x="1175.5" y="475.6" font-family='"Liberation Sans", sans-serif' font-size="13.2" fill="#454545" font-weight="bold" text-anchor="middle" letter-spacing="0" >Net Profit Margin</text>
<rect x="1137.0" y="607" width="77" height="29.7" fill="#F2F2F2" stroke="none" stroke-width="1" />
<text x="1175.5" y="627" font-family='"Liberation Sans", sans-serif' font-size="13" fill="#404040" font-weight="bold" text-anchor="middle" letter-spacing="0" >19%</text>
<text x="359.7" y="712" font-family='"Liberation Sans", sans-serif' font-size="10.8" fill="#595959" font-weight="normal" text-anchor="start" letter-spacing="0" textLength="559" lengthAdjust="spacing" >This graph/chart is linked to excel, and changes automatically based on data. Just left click on it and select “edit data”.</text>
<circle cx="1265" cy="701" r="13" fill="url(#glow)"/>
<circle cx="1273.3" cy="710.8" r="4.2" fill="#D9D7EC"/>
<text x="1265" y="705" font-family='"Liberation Sans", sans-serif' font-size="10.5" fill="#404040" font-weight="normal" text-anchor="middle" letter-spacing="0" >5</text>
</svg>
</body></html>
